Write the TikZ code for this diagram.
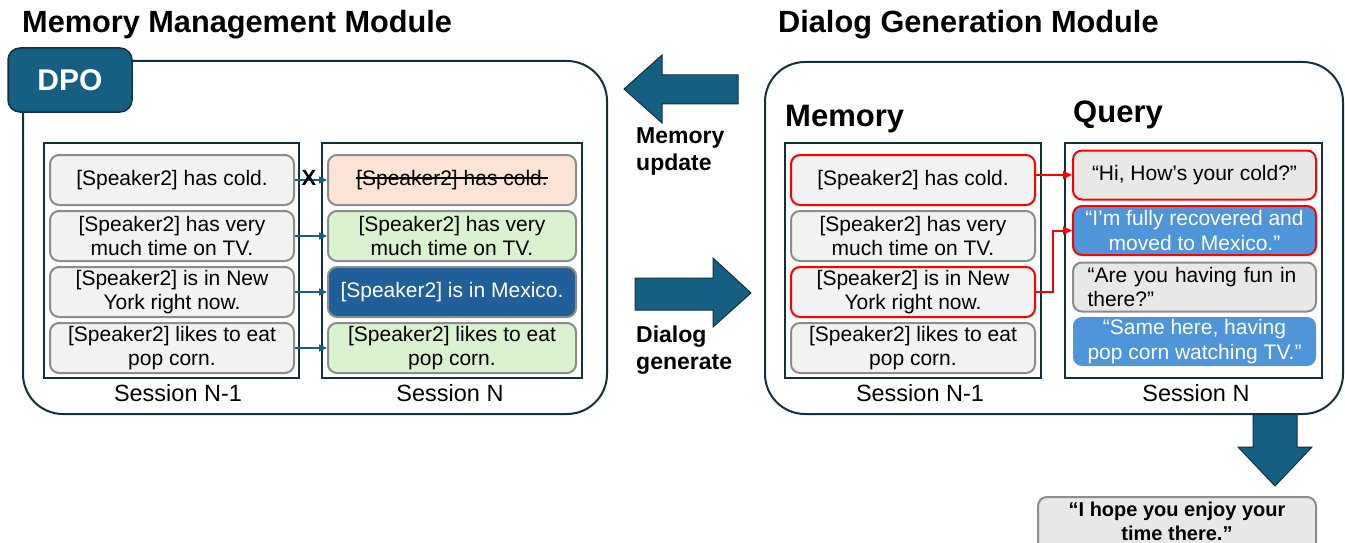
\documentclass[tikz,border=0pt]{standalone}
\usepackage{fontspec}
\setmainfont{Liberation Sans}
\usetikzlibrary{arrows.meta,calc}
\definecolor{teal1}{HTML}{156082}
\definecolor{navy1}{HTML}{13303F}
\definecolor{boxgray}{HTML}{F2F2F2}
\definecolor{qgray}{HTML}{E8E8E8}
\definecolor{bordgray}{HTML}{8C8C8C}
\definecolor{salmon1}{HTML}{FBE3D6}
\definecolor{green1}{HTML}{DAF2D0}
\definecolor{blue1}{HTML}{215F9A}
\definecolor{blue2}{HTML}{4E95D9}
\newcommand\crossedout[1]{\setbox0=\hbox{#1}\rlap{\vrule height 0.38em depth -0.30em width \wd0}\box0}
\tikzset{
    modbox/.style={draw=navy1, line width=2pt, rounded corners=40pt, fill=white},
    colbox/.style={draw=navy1, line width=2pt},
    item/.style={draw=bordgray, line width=2pt, rounded corners=9pt, fill=boxgray,
      minimum width=244pt, minimum height=50pt, align=center, inner sep=2pt,
      font=\fontsize{21}{24.5}\selectfont},
    hit/.style={draw=red},
    keep/.style={-{Triangle[length=8pt,width=7pt]}, teal1, line width=1.5pt},
    recall/.style={-{Triangle[length=9pt,width=8pt]}, red, line width=2pt},
    bigarrow/.style={fill=teal1, draw=navy1, line width=1pt},
    title/.style={anchor=base west, inner sep=0pt, font=\fontsize{30.7}{33}\selectfont\bfseries},
    subtitle/.style={anchor=base west, inner sep=0pt, font=\fontsize{31}{33}\selectfont\bfseries},
    tag/.style={align=left, anchor=base west, inner sep=0pt, font=\fontsize{23}{27}\selectfont\bfseries},
    session/.style={font=\fontsize{23.5}{26}\selectfont},
    dpo/.style={fill=teal1, draw=navy1, line width=1.5pt, rounded corners=12pt,
      minimum width=124pt, minimum height=64pt, text=white, font=\fontsize{30}{32}\selectfont\bfseries},
  }
\begin{document}
\begin{tikzpicture}[x=1pt,y=-1pt]
          %page frame, same size as the picture
          \useasboundingbox (0,0) rectangle (1345,543);
          \clip (0,0) rectangle (1345,543);

          %memory management module
          \node[title] (lefttitle) at (22,33) {Memory Management Module};
          \draw[modbox] (23,61) rectangle (607,414);
          \node[dpo] (dpo) at (70,80) {DPO};
          \draw[colbox] (44,143) rectangle (299,378);
          \draw[colbox] (322,143) rectangle (582,378);
          \node[item] (m1) at (172,180) {[Speaker2] has cold.};
          \node[item] (m2) at (172,236) {[Speaker2] has very\\much time on TV.};
          \node[item] (m3) at (172,292) {[Speaker2] is in New\\York right now.};
          \node[item] (m4) at (172,348) {[Speaker2] likes to eat\\pop corn.};
          \node[item, minimum width=248pt, fill=salmon1] (n1) at (452,180) {\crossedout{[Speaker2] has cold.}};
          \node[item, minimum width=248pt, fill=green1] (n2) at (452,236) {[Speaker2] has very\\much time on TV.};
          \node[item, minimum width=248pt, fill=blue1, text=white] (n3) at (452,292) {[Speaker2] is in Mexico.};
          \node[item, minimum width=248pt, fill=green1] (n4) at (452,348) {[Speaker2] likes to eat\\pop corn.};
          \foreach \i in {1,...,4}
            \draw[keep] (m\i.east) -- (n\i.west);
          \node[font=\fontsize{22}{24}\selectfont\bfseries] (xmark) at (309,178) {X};
          \node[session] (lsold) at (178,393) {Session N-1};
          \node[session] (lsnew) at (450,393) {Session N};

          %arrows between the modules
          \draw[bigarrow] (624,89) -- (662,55) -- (662,75) -- (738,75) -- (738,104) -- (662,104) -- (662,123) -- cycle;
          \node[tag] (update) at (636,170) {Memory\\update};
          \draw[bigarrow] (751,293) -- (713,258) -- (713,278) -- (635,278) -- (635,310) -- (713,310) -- (713,327) -- cycle;
          \node[tag] (generate) at (636,369) {Dialog\\generate};

          %dialog generation module
          \draw[bigarrow] (1275,486) -- (1238,447) -- (1253,447) -- (1253,405) -- (1297,405) -- (1297,447) -- (1312,447) -- cycle;
          \node[title] (righttitle) at (778,33) {Dialog Generation Module};
          \draw[modbox] (765,62) rectangle (1343,414);
          \node[subtitle] (memlabel) at (785,126) {Memory};
          \node[subtitle] (querylabel) at (1073,122) {Query};
          \draw[colbox] (785,143) rectangle (1041,378);
          \draw[colbox] (1065,143) rectangle (1322,378);
          \node[item, hit] (r1) at (913,180) {[Speaker2] has cold.};
          \node[item] (r2) at (913,236) {[Speaker2] has very\\much time on TV.};
          \node[item, hit] (r3) at (913,292) {[Speaker2] is in New\\York right now.};
          \node[item] (r4) at (913,348) {[Speaker2] likes to eat\\pop corn.};
          \node[item, hit, fill=qgray, minimum width=243pt, minimum height=49pt] (q1) at (1194.5,175) {“Hi, How’s your cold?”};
          \node[item, hit, fill=blue2, text=white, minimum width=243pt, minimum height=49pt] (q2) at (1194.5,230.5) {“I’m fully recovered and\\moved to Mexico.”};
          \node[item, fill=qgray, minimum width=243pt, minimum height=49pt, align=left, text width=214pt] (q3) at (1194.5,287) {“Are you having fun in\\there?”};
          \node[item, draw=none, fill=blue2, text=white, minimum width=243pt, minimum height=49pt] (q4) at (1194.5,341.5) {“Same here, having\\pop corn watching TV.”};
          \draw[recall] (r1.east |- q1.west) -- (q1.west);
          \draw[recall] (r3.east) -- ++(17,0) |- (q2.west);
          \node[session] (rsold) at (920,393) {Session N-1};
          \node[session] (rsnew) at (1196,393) {Session N};

          %generated reply
          \draw[draw=bordgray, fill=qgray, line width=2pt, rounded corners=9pt] (1038,497) rectangle (1316,565);
          \node[align=center, font=\fontsize{20}{24}\selectfont\bfseries] (reply) at (1177,521) {“I hope you enjoy your\\time there.”};
\end{tikzpicture}
\end{document}
